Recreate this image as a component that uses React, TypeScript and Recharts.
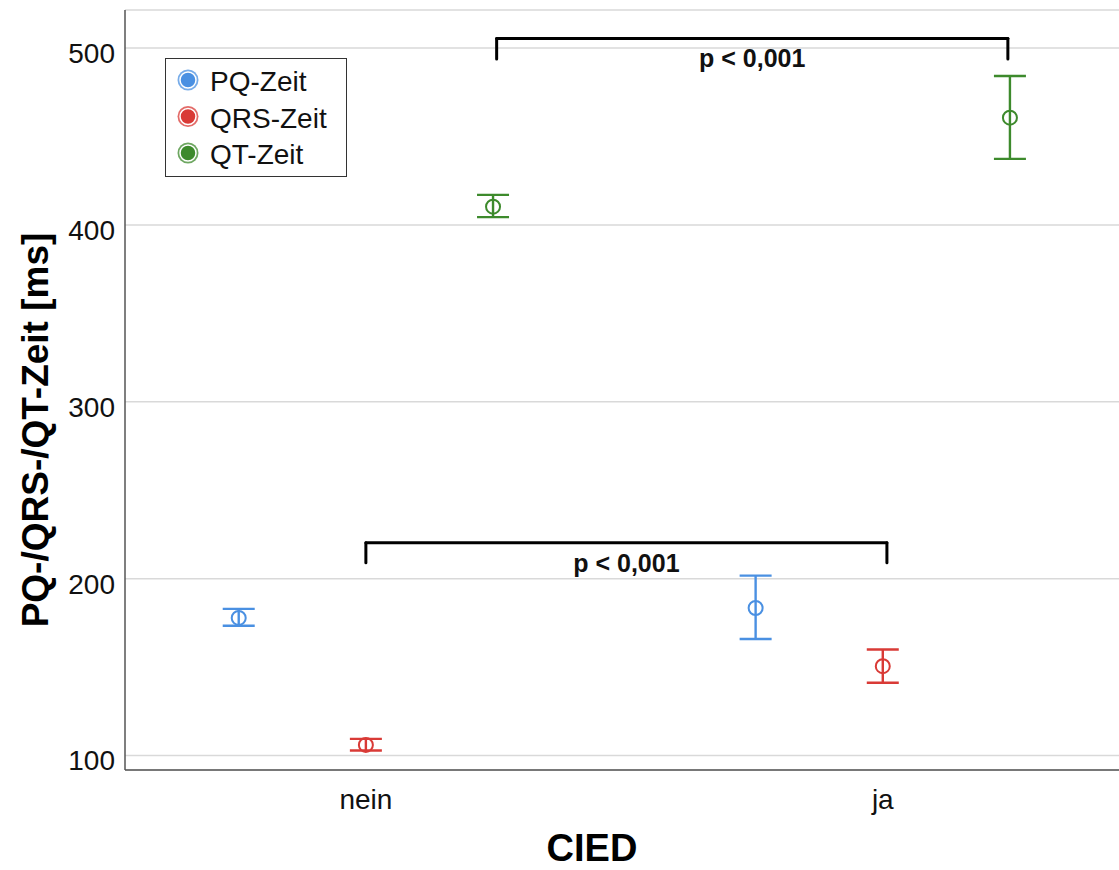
// Mean ± 95% CI of PQ / QRS / QT interval, split by CIED (nein / ja),
// with significance brackets between the groups.
import {
  ScatterChart,
  Scatter,
  XAxis,
  YAxis,
  CartesianGrid,
  ErrorBar,
  ReferenceLine,
  ReferenceDot,
  Legend,
  Label,
} from 'recharts';

const CATEGORIES = ['nein', 'ja'];
const SERIES_NAMES = ['PQ-Zeit', 'QRS-Zeit', 'QT-Zeit'];

const PQ_MEAN = [177.8, 183.4];
const PQ_LOW = [173.4, 165.9];
const PQ_HIGH = [182.9, 201.7];

const QRS_MEAN = [106.0, 150.5];
const QRS_LOW = [102.8, 141.1];
const QRS_HIGH = [109.4, 159.9];

const QT_MEAN = [410.3, 460.6];
const QT_LOW = [404.4, 437.3];
const QT_HIGH = [417.0, 484.2];

const Y_TICKS = [100, 200, 300, 400, 500];

// significance brackets: [left x, right x], top value, foot value, label baseline
const BRACKET_X = [
  [1.253, 2.242],
  [1.0, 2.008],
];
const BRACKET_TOP = [505.4, 220.3];
const BRACKET_FOOT = [493.8, 209.0];
const BRACKET_TEXT_Y = [489.3, 203.6];
const BRACKET_LABELS = ['p < 0,001', 'p < 0,001'];

const COLORS = ['#4a90e2', '#d93a36', '#3d8a2c'];
const DODGE = [-0.246, 0, 0.246];
const FONT = '"Liberation Sans", Arial, Helvetica, sans-serif';

function buildPoints(mean: number[], low: number[], high: number[], dodge: number) {
  return CATEGORIES.map((_, i) => ({
    x: i + 1 + dodge,
    y: mean[i],
    err: [mean[i] - low[i], high[i] - mean[i]],
  }));
}

const SERIES = [
  buildPoints(PQ_MEAN, PQ_LOW, PQ_HIGH, DODGE[0]),
  buildPoints(QRS_MEAN, QRS_LOW, QRS_HIGH, DODGE[1]),
  buildPoints(QT_MEAN, QT_LOW, QT_HIGH, DODGE[2]),
];

const YTick = ({ x, y, payload }: any) => (
  <text x={x} y={y + 5} dy="0.355em" textAnchor="end" fontSize={28} fontFamily={FONT} fill="#111">
    {payload.value}
  </text>
);

const XTick = ({ x, y, payload }: any) => (
  <text x={x} y={y} dy="0.71em" textAnchor="middle" fontSize={28} fontFamily={FONT} fill="#111">
    {CATEGORIES[Math.round(payload.value) - 1]}
  </text>
);

const YTitle = ({ viewBox }: any) => (
  <text
    transform={`translate(${viewBox.x + 48}, ${viewBox.y + viewBox.height / 2 + 40}) rotate(-90)`}
    textAnchor="middle"
    fontSize={37}
    fontWeight="bold"
    fontFamily={FONT}
    fill="#000"
  >
    PQ-/QRS-/QT-Zeit [ms]
  </text>
);

const XTitle = ({ viewBox }: any) => (
  <text
    x={viewBox.x + viewBox.width / 2 - 30}
    y={viewBox.y + 91}
    textAnchor="middle"
    fontSize={38}
    fontWeight="bold"
    fontFamily={FONT}
    fill="#000"
  >
    CIED
  </text>
);

const LegendBox = () => (
  <div style={{ width: 182, height: 119, border: '1.5px solid #333', background: '#fff', boxSizing: 'border-box' }}>
    <svg width={180} height={116}>
      {SERIES_NAMES.map((name, i) => {
        const cy = 21 + i * 36.5;
        return (
          <g key={name}>
            <circle cx={22} cy={cy} r={10.5} fill={COLORS[i]} opacity={0.75} />
            <circle cx={22} cy={cy} r={8} fill={COLORS[i]} stroke="#fff" strokeWidth={1.5} />
            <text x={44} y={cy + 11} fontSize={28} fontFamily={FONT} fill="#111">
              {name}
            </text>
          </g>
        );
      })}
    </svg>
  </div>
);

export default function App() {
  return (
    <div style={{ position: 'absolute', left: 0, top: 0 }}>
      <ScatterChart width={1119} height={870} margin={{ top: 10, right: 0, bottom: 0, left: 0 }}>
        <CartesianGrid vertical={false} stroke="#d9d9d9" strokeWidth={1.5} />
        <XAxis
          type="number"
          dataKey="x"
          domain={[0.534, 2.457]}
          ticks={[1, 2]}
          allowDataOverflow
          height={100}
          tickSize={0}
          tickMargin={19}
          tickLine={false}
          tick={<XTick />}
          stroke="#555"
          strokeWidth={1.5}
        >
          <Label content={<XTitle />} />
        </XAxis>
        <YAxis
          type="number"
          dataKey="y"
          domain={[91.8, 521.5]}
          ticks={Y_TICKS}
          allowDataOverflow
          width={125}
          tickSize={0}
          tickMargin={10}
          tickLine={false}
          tick={<YTick />}
          stroke="#555"
          strokeWidth={1.5}
        >
          <Label content={<YTitle />} />
        </YAxis>
        <Legend
          layout="vertical"
          align="center"
          verticalAlign="middle"
          content={<LegendBox />}
          wrapperStyle={{ left: 165, top: 58, width: 182, height: 119 }}
        />

        {SERIES.map((data, i) => (
          <Scatter
            key={SERIES_NAMES[i]}
            name={SERIES_NAMES[i]}
            data={data}
            isAnimationActive={false}
            shape={(p: any) => (
              <circle cx={p.cx} cy={p.cy} r={7} fill="none" stroke={COLORS[i]} strokeWidth={2} />
            )}
          >
            <ErrorBar
              dataKey="err"
              direction="y"
              width={16}
              stroke={COLORS[i]}
              strokeWidth={2.4}
              isAnimationActive={false}
            />
          </Scatter>
        ))}

        {BRACKET_X.map(([x1, x2], i) => [
          <ReferenceLine
            key={`l${i}`}
            segment={[{ x: x1, y: BRACKET_FOOT[i] }, { x: x1, y: BRACKET_TOP[i] }]}
            stroke="#000"
            strokeWidth={3}
            strokeLinecap="round"
          />,
          <ReferenceLine
            key={`t${i}`}
            segment={[{ x: x1, y: BRACKET_TOP[i] }, { x: x2, y: BRACKET_TOP[i] }]}
            stroke="#000"
            strokeWidth={3}
            strokeLinecap="round"
          />,
          <ReferenceLine
            key={`r${i}`}
            segment={[{ x: x2, y: BRACKET_TOP[i] }, { x: x2, y: BRACKET_FOOT[i] }]}
            stroke="#000"
            strokeWidth={3}
            strokeLinecap="round"
          />,
          <ReferenceDot
            key={`p${i}`}
            x={(x1 + x2) / 2}
            y={BRACKET_TEXT_Y[i]}
            r={1}
            shape={(p: any) => (
              <text
                x={p.cx}
                y={p.cy}
                textAnchor="middle"
                fontSize={25}
                fontWeight="bold"
                fontFamily={FONT}
                fill="#111"
              >
                {BRACKET_LABELS[i]}
              </text>
            )}
          />,
        ])}
      </ScatterChart>
    </div>
  );
}
